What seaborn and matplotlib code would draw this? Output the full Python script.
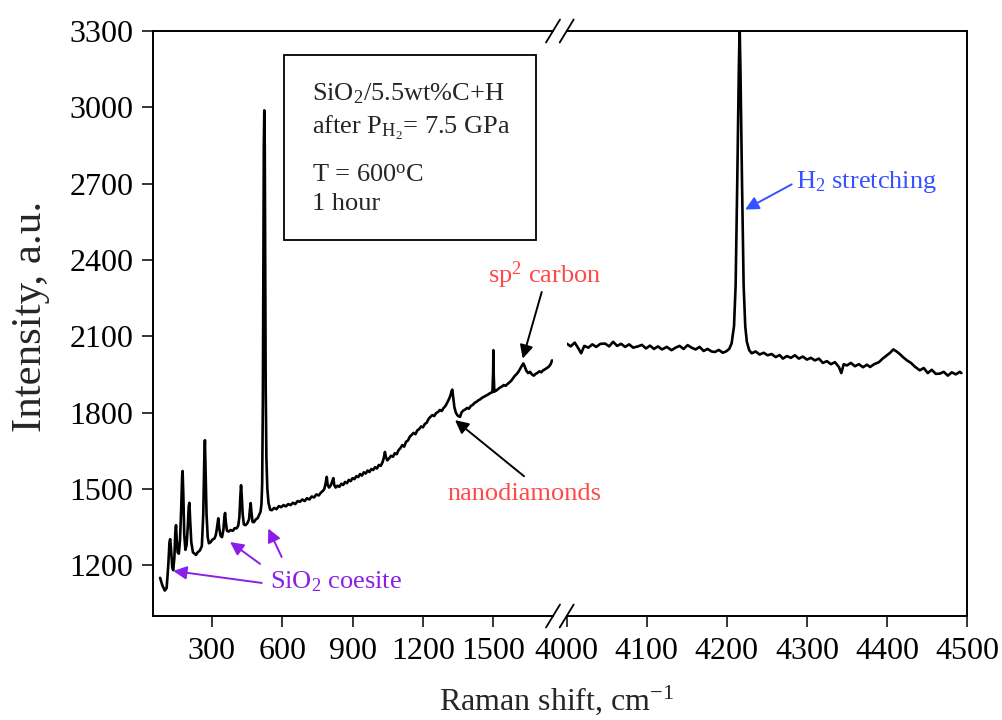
import matplotlib
matplotlib.use('Agg')
import matplotlib.pyplot as plt
import seaborn as sns
import pandas as pd
from matplotlib.lines import Line2D
from matplotlib.patches import Rectangle

# ---------------- data ----------------
low_shift = [80, 90, 100, 108, 115, 120, 123, 127, 132, 136, 141, 145, 148, 151, 155, 160, 165, 170, 174, 176,
             179, 183, 188, 193, 198, 202, 205, 208, 213, 220, 227, 233, 240, 250, 258, 264, 268, 271, 274, 278,
             283, 288, 295, 303, 312, 318, 323, 328, 332, 338, 344, 350, 354, 357, 360, 365, 372, 380, 390, 398,
             406, 413, 418, 422, 425, 428, 432, 437, 444, 452, 459, 463, 466, 469, 474, 480, 488, 496, 503, 508,
             512, 515, 518, 520, 522, 524, 526, 528, 530, 533, 537, 542, 549,
             556, 566, 576, 586, 596, 606, 616, 626, 636, 646, 656, 666, 676, 686, 696, 706, 716, 726, 736, 746,
             756, 766, 774, 780, 786, 790, 794, 800, 806, 812, 818, 822, 828, 836, 844, 852, 860, 868, 876, 884,
             892, 900, 908, 916, 924, 932, 940, 948, 956, 964, 972, 980, 988, 996, 1004, 1012, 1020, 1028, 1034,
             1038, 1042, 1048, 1056, 1064, 1072, 1080, 1088, 1096, 1104, 1112, 1120, 1128, 1136, 1144, 1152, 1160,
             1168, 1176, 1184, 1192, 1200, 1208, 1216, 1224, 1232, 1240, 1248, 1256, 1264, 1272, 1280, 1288, 1296,
             1304, 1312, 1318, 1322, 1325, 1329, 1334, 1340, 1346, 1352, 1358, 1364, 1372, 1380, 1388, 1396, 1404,
             1412, 1420, 1428, 1436, 1444, 1452, 1460, 1468, 1476, 1484, 1490, 1496, 1499, 1500, 1501, 1504, 1512,
             1520, 1528, 1536, 1544, 1552, 1560, 1568, 1576, 1584, 1592, 1600, 1608, 1616, 1622, 1628, 1634, 1640,
             1648, 1656, 1664, 1672, 1680, 1688, 1696, 1704, 1712, 1720, 1728, 1736, 1744, 1750]
low_int = [1150, 1120, 1100, 1110, 1200, 1290, 1302, 1260, 1190, 1180, 1230, 1330, 1357, 1300, 1250, 1245, 1300, 1420, 1550, 1570,
           1480, 1320, 1260, 1280, 1350, 1430, 1445, 1380, 1290, 1250, 1245, 1240, 1250, 1258, 1275, 1400, 1600, 1691, 1560, 1400,
           1310, 1286, 1290, 1300, 1305, 1320, 1350, 1384, 1345, 1315, 1310, 1340, 1390, 1405, 1370, 1335, 1332, 1338, 1335, 1345,
           1345, 1355, 1390, 1470, 1514, 1470, 1400, 1360, 1357, 1365, 1380, 1420, 1444, 1410, 1370, 1369, 1380, 1385, 1400, 1410,
           1440, 1520, 1850, 2400, 2850, 2988, 2850, 2400, 1900, 1620, 1500, 1445, 1418,
           1416, 1425, 1420, 1432, 1428, 1436, 1431, 1440, 1436, 1445, 1440, 1452, 1449, 1458, 1452, 1463, 1458, 1470, 1466, 1478,
           1474, 1486, 1492, 1500, 1525, 1547, 1515, 1505, 1512, 1525, 1542, 1515, 1505, 1512, 1508, 1520, 1515, 1527, 1522, 1535,
           1530, 1542, 1538, 1550, 1546, 1558, 1552, 1565, 1560, 1572, 1566, 1578, 1574, 1585, 1580, 1594, 1590, 1605, 1625,
           1645, 1625, 1612, 1620, 1630, 1626, 1640, 1636, 1652, 1660, 1672, 1666, 1685, 1690, 1705, 1712, 1720,
           1715, 1730, 1735, 1745, 1742, 1755, 1760, 1775, 1783, 1790, 1786, 1798, 1802, 1810, 1806, 1818, 1826,
           1840, 1855, 1870, 1885, 1890, 1860, 1820, 1800, 1790, 1785, 1783, 1800, 1808, 1812, 1818, 1815, 1826,
           1830, 1838, 1842, 1848, 1852, 1858, 1862, 1866, 1870, 1875, 1878, 1880, 1960, 2045, 1960, 1882, 1886,
           1892, 1898, 1902, 1908, 1905, 1912, 1918, 1925, 1935, 1945, 1952, 1962, 1975, 1985, 1993, 1980, 1965,
           1955, 1960, 1950, 1945, 1952, 1956, 1962, 1958, 1966, 1970, 1975, 1980, 1990, 2005]

high_shift = [4000, 4005, 4010, 4015, 4018, 4022, 4027, 4032, 4037, 4042, 4048, 4053, 4058, 4063, 4068, 4073, 4078, 4083,
              4089, 4094, 4099, 4104, 4109, 4114, 4119, 4125, 4131, 4136, 4141, 4146, 4151, 4156, 4161, 4166, 4171, 4176,
              4181, 4185, 4190, 4195, 4199, 4203, 4206, 4209, 4211, 4213, 4215, 4216, 4217, 4219, 4221, 4223, 4225, 4228,
              4231, 4236, 4241, 4246, 4251, 4256, 4261, 4266, 4270, 4275, 4280, 4285, 4290, 4295, 4300, 4305, 4310, 4315,
              4320, 4325, 4330, 4335, 4340, 4343, 4346, 4350, 4355, 4360, 4365, 4370, 4375, 4379, 4384, 4390, 4395, 4400,
              4404, 4408, 4412, 4416, 4420, 4425, 4430, 4435, 4441, 4446, 4451, 4456, 4461, 4466, 4471, 4476, 4481, 4486,
              4491, 4493]
high_int = [2071, 2060, 2075, 2050, 2033, 2062, 2055, 2068, 2058, 2070, 2071, 2060, 2078, 2062, 2070, 2058, 2068, 2055,
            2060, 2066, 2052, 2063, 2050, 2060, 2048, 2058, 2045, 2055, 2062, 2050, 2065, 2055, 2048, 2058, 2042, 2050,
            2040, 2038, 2046, 2035, 2040, 2050, 2072, 2140, 2300, 2700, 3150, 3320, 3150, 2700, 2300, 2140, 2078, 2045,
            2033, 2040, 2028, 2035, 2025, 2030, 2018, 2026, 2012, 2022, 2015, 2025, 2012, 2020, 2008, 2015, 2005, 2012,
            1995, 2002, 1990, 1998, 1979, 1955, 1990, 1985, 1995, 1982, 1990, 1978, 1988, 1979, 1990, 1998, 2013, 2025,
            2035, 2048, 2040, 2030, 2018, 2005, 1995, 1980, 1966, 1975, 1955, 1968, 1952, 1953, 1960, 1945, 1958, 1950,
            1960, 1955]

x_ticks_low = [300, 600, 900, 1200, 1500]
x_ticks_high = [4000, 4100, 4200, 4300, 4400, 4500]
y_ticks = [1200, 1500, 1800, 2100, 2400, 2700, 3000, 3300]
x_lim_low = (48.6, 1754)
x_lim_high = (4000, 4500)
y_lim = (1000, 3300)

# ---------------- style ----------------
sns.set_style('ticks')
plt.rcParams['font.family'] = ['Liberation Serif', 'DejaVu Serif']
plt.rcParams['mathtext.fontset'] = 'custom'
plt.rcParams['mathtext.rm'] = 'Liberation Serif'
plt.rcParams['mathtext.it'] = 'Liberation Serif:italic'
plt.rcParams['mathtext.bf'] = 'Liberation Serif:bold'

W, H = 1002, 720
fig = plt.figure(figsize=(W / 100, H / 100), dpi=100)
fig.patch.set_facecolor('white')


def fx(px):
    return px / W


def fy(py):
    return 1 - py / H


L, R1, L2, R = 152.7, 553.0, 566.7, 967.0
T, B = 31.0, 616.0
ax1 = fig.add_axes([fx(L), fy(B), (R1 - L) / W, (B - T) / H])
ax2 = fig.add_axes([fx(L2), fy(B), (R - L2) / W, (B - T) / H])

df_low = pd.DataFrame({'shift': low_shift, 'intensity': low_int})
df_high = pd.DataFrame({'shift': high_shift, 'intensity': high_int})
sns.lineplot(data=df_low, x='shift', y='intensity', ax=ax1, color='black', lw=1.9,
             sort=False, estimator=None)
sns.lineplot(data=df_high, x='shift', y='intensity', ax=ax2, color='black', lw=1.9,
             sort=False, estimator=None)

TICK_FS = 23
for ax in (ax1, ax2):
    ax.set_xlabel('')
    ax.set_ylabel('')
    ax.set_ylim(*y_lim)
    ax.set_facecolor('white')
    for sp in ax.spines.values():
        sp.set_linewidth(1.4)
        sp.set_color('black')
    ax.tick_params(axis='both', direction='out', length=8, width=1.1, colors='black',
                   labelsize=TICK_FS, pad=7)

ax1.set_xlim(*x_lim_low)
ax1.set_xticks(x_ticks_low)
ax1.set_yticks(y_ticks)
ax1.spines['right'].set_visible(False)
ax1.tick_params(axis='y', pad=6)

ax2.set_xlim(*x_lim_high)
ax2.set_xticks(x_ticks_high)
ax2.set_yticks([])
ax2.spines['left'].set_visible(False)
ax2.tick_params(axis='y', left=False, labelleft=False)

# break marks
for cx in (R1, L2):
    for cy in (T, B):
        fig.add_artist(Line2D([fx(cx - 7), fx(cx + 7)], [fy(cy + 11.5), fy(cy - 11.5)],
                              transform=fig.transFigure, color='black', lw=1.3))

# axis labels
fig.text(fx(557), fy(700), r'Raman shift, cm$^{\mathregular{-1}}$', ha='center', va='center',
         fontsize=23)
fig.text(fx(31), fy(316), 'Intensity, a.u.', ha='center', va='center', rotation=90, fontsize=31)

# info box
fig.add_artist(Rectangle((fx(284), fy(240)), (536 - 284) / W, (240 - 55) / H,
                         transform=fig.transFigure, fill=False, ec='black', lw=1.3))
BOX_FS = 19
fig.text(fx(312), fy(100.5), r'SiO$_2$/5.5wt%C+H', fontsize=BOX_FS, va='baseline')
fig.text(fx(312), fy(134), r'after P$_{\mathregular{H}_2}$= 7.5 GPa', fontsize=BOX_FS, va='baseline')
fig.text(fx(312), fy(182), r'T = 600$^{\mathregular{o}}$C', fontsize=BOX_FS, va='baseline')
fig.text(fx(312), fy(210), '1 hour', fontsize=BOX_FS, va='baseline')

# annotations
ANN_FS = 19
blue = '#3651ff'
red = '#ff4848'
purple = '#8a1fe8'


def arrow(ax, tip, tail, color):
    ax.annotate('', xy=tip, xytext=tail, xycoords='data', textcoords='data',
                arrowprops=dict(arrowstyle='-|>', color=color, lw=1.4, mutation_scale=20,
                                shrinkA=0, shrinkB=0), annotation_clip=False)


fig.text(fx(796), fy(188), r'H$_2$ stretching', color=blue, fontsize=ANN_FS, va='baseline')
arrow(ax2, (4222.9, 2598), (4281, 2697), blue)

fig.text(fx(488), fy(283), r'sp$^2$ carbon', color=red, fontsize=ANN_FS, va='baseline')
arrow(ax1, (1625, 2012), (1706, 2274), 'black')

fig.text(fx(447), fy(500), 'nanodiamonds', color=red, fontsize=ANN_FS, va='baseline')
arrow(ax1, (1336.6, 1770), (1630.6, 1549.5), 'black')

fig.text(fx(270), fy(588), r'SiO$_2$ coesite', color=purple, fontsize=ANN_FS, va='baseline')
arrow(ax1, (136.4, 1177), (513, 1130), purple)
arrow(ax1, (378, 1291), (505.8, 1205), purple)
arrow(ax1, (541, 1344), (598, 1232), purple)

fig.savefig('out.png', dpi=100, facecolor='white')
